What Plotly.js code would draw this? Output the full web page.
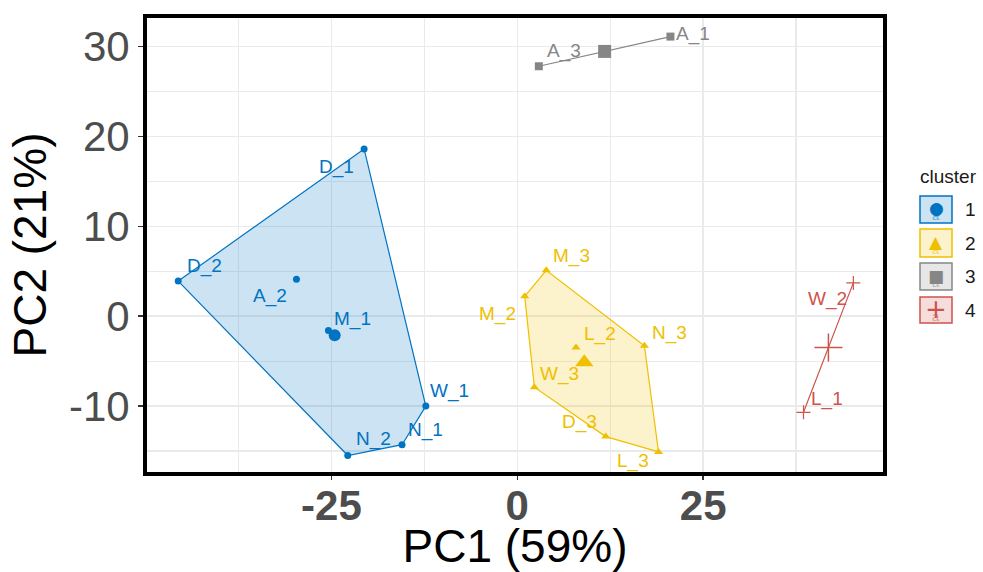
<!DOCTYPE html>
<html>
<head>
<meta charset="utf-8">
<script src="https://cdn.plot.ly/plotly-3.0.1.min.js"></script>
<style>html,body{margin:0;padding:0;background:#fff;}#chart{width:983px;height:572px;}</style>
</head>
<body>
<div id="chart"></div>
<script>
// ---- data ----
const sampleLabels = ['D_1','D_2','A_2','M_1','W_1','N_1','N_2','M_3','M_2','L_2','N_3','W_3','D_3','L_3','A_3','A_1','W_2','L_1'];
const pc1 = [-20.6,-45.6,-29.7,-25.4,-12.3,-15.5,-22.8, 3.9, 1.0, 7.9,17.1, 2.3,11.9,19.0, 2.9,20.6,45.2,38.5];
const pc2 = [ 18.6,  3.9,  4.1, -1.6,-10.0,-14.3,-15.5, 5.1, 2.2,-3.5,-3.3,-7.9,-13.4,-15.1,27.8,31.1, 3.7,-10.7];
const clusterOf = [1,1,1,1,1,1,1,2,2,2,2,2,2,2,3,3,4,4];
const clusterIds = [1,2,3,4];
const xTicks = [-25,0,25];
const xMinorTicks = [-37.5,-12.5,12.5,37.5];
const yTicks = [-10,0,10,20,30];
const yMinorTicks = [-15,-5,5,15,25];
const xTitle = 'PC1 (59%)';
const yTitle = 'PC2 (21%)';
const legendTitle = 'cluster';

// ---- style ----
const colors = {1:'#0073C2',2:'#EFC000',3:'#868686',4:'#CD534C'};
const fills  = {1:'rgba(0,115,194,0.2)',2:'rgba(239,192,0,0.2)',3:'rgba(134,134,134,0.2)',4:'rgba(205,83,76,0.2)'};
const symbols = {1:'circle',2:'triangle-up',3:'square',4:'cross-thin'};
const ptSize = {1:7,2:8,3:8,4:10};
const cenSize = {1:12,2:16,3:13,4:20};
// label pixel offsets (dx right, dy down), layout only
const labelDx = [-28, 26,-26, 24, 24, 23, 26, 25,-27, 24, 25, 25,-26,-26, 25, 23,-26, 23];
const labelDy = [ 19,-14, 18,-11,-14,-14,-15,-13, 19,-13,-12,-12,-14, 10,-14, -2, 17,-12];

const L = 145, R = 885, T = 16, B = 474;
const W = 983, H = 572;
const pxX = p => (p - L) / (R - L);
const pxY = p => (B - p) / (B - T);

function hull(pts){
  const p = pts.slice().sort((a,b)=>a[0]-b[0]||a[1]-b[1]);
  if (p.length < 3) return p;
  const cross=(o,a,b)=>(a[0]-o[0])*(b[1]-o[1])-(a[1]-o[1])*(b[0]-o[0]);
  const lo=[],up=[];
  for(const q of p){while(lo.length>=2&&cross(lo[lo.length-2],lo[lo.length-1],q)<=0)lo.pop();lo.push(q);}
  for(let i=p.length-1;i>=0;i--){const q=p[i];while(up.length>=2&&cross(up[up.length-2],up[up.length-1],q)<=0)up.pop();up.push(q);}
  up.pop();lo.pop();return lo.concat(up);
}

const traces = [];
clusterIds.forEach(c=>{
  const idx = clusterOf.map((v,i)=>v===c?i:-1).filter(i=>i>=0);
  const pts = idx.map(i=>[pc1[i],pc2[i]]);
  const h = hull(pts);
  traces.push({x:h.map(p=>p[0]).concat([h[0][0]]), y:h.map(p=>p[1]).concat([h[0][1]]),
    mode:'lines', fill:'toself', fillcolor:fills[c], line:{color:colors[c],width:1.2},
    hoverinfo:'skip', showlegend:false});
});
clusterIds.forEach(c=>{
  const idx = clusterOf.map((v,i)=>v===c?i:-1).filter(i=>i>=0);
  const isCross = symbols[c]==='cross-thin';
  traces.push({x:idx.map(i=>pc1[i]), y:idx.map(i=>pc2[i]), text:idx.map(i=>sampleLabels[i]),
    mode:'markers', marker:{symbol:symbols[c], size:ptSize[c], color:colors[c],
      line:{color:colors[c], width:isCross?1.2:0}}, name:String(c), showlegend:false});
  const cx = idx.reduce((s,i)=>s+pc1[i],0)/idx.length;
  const cy = idx.reduce((s,i)=>s+pc2[i],0)/idx.length;
  traces.push({x:[cx], y:[cy], mode:'markers', marker:{symbol:symbols[c], size:cenSize[c], color:colors[c],
      line:{color:colors[c], width:isCross?1.5:0}}, hoverinfo:'skip', showlegend:false});
});

const annotations = sampleLabels.map((t,i)=>({x:pc1[i], y:pc2[i], xref:'x', yref:'y', text:t, showarrow:false,
  xanchor:'center', yanchor:'middle', xshift:labelDx[i], yshift:-labelDy[i]+1,
  font:{family:'Liberation Sans, Arial, sans-serif', size:19, color:colors[clusterOf[i]]}}));

// legend (manual)
annotations.push({xref:'paper', yref:'paper', x:pxX(918), y:pxY(176), text:legendTitle, showarrow:false,
  xanchor:'left', yanchor:'middle', font:{family:'Liberation Sans, Arial, sans-serif', size:19, color:'#1a1a1a'}});
const keyTop = [196,229,263,297], keyBot=[223,257,290,323];
const glyph = {1:'●',2:'▲',3:'■',4:'+'};
const glyphSize = {1:17,2:17,3:17,4:26};
const shapes = [];
clusterIds.forEach((c,k)=>{
  shapes.push({type:'rect', xref:'paper', yref:'paper', x0:pxX(920), x1:pxX(952), y0:pxY(keyBot[k]), y1:pxY(keyTop[k]),
    line:{color:colors[c], width:1.5}, fillcolor:fills[c]});
  const cyPx = (keyTop[k]+keyBot[k])/2;
  annotations.push({xref:'paper', yref:'paper', x:pxX(936), y:pxY(cyPx+6), text:'a', showarrow:false,
    xanchor:'center', yanchor:'middle', font:{family:'Liberation Sans, Arial, sans-serif', size:13, color:colors[c]}, opacity:0.5});
  annotations.push({xref:'paper', yref:'paper', x:pxX(936), y:pxY(cyPx-1), text:glyph[c], showarrow:false,
    xanchor:'center', yanchor:'middle', font:{family:'DejaVu Sans, sans-serif', size:glyphSize[c], color:colors[c]}});
  annotations.push({xref:'paper', yref:'paper', x:pxX(963), y:pxY(cyPx), text:String(c), showarrow:false,
    xanchor:'left', yanchor:'middle', font:{family:'Liberation Sans, Arial, sans-serif', size:19, color:'#1a1a1a'}});
});
// panel border
shapes.push({type:'rect', xref:'paper', yref:'paper', x0:0, x1:1, y0:0, y1:1, line:{color:'#000', width:4}, layer:'above'});

const gridCol = '#EAEAEA';
const layout = {
  width:W, height:H, margin:{l:L, r:W-R, t:T, b:H-B, pad:0},
  paper_bgcolor:'#fff', plot_bgcolor:'#fff', showlegend:false,
  font:{family:'Liberation Sans, Arial, sans-serif'},
  xaxis:{range:[-50.07,49.46], tickmode:'array', tickvals:xTicks, ticktext:xTicks.map(String), zeroline:false,
    showgrid:true, gridcolor:gridCol, gridwidth:1.5,
    minor:{tickmode:'array', tickvals:xMinorTicks, showgrid:true, gridcolor:gridCol, gridwidth:1.2, ticks:''},
    ticks:'outside', ticklen:5, tickwidth:1.5, tickcolor:'#333', ticklabelstandoff:-10,
    tickfont:{size:42, color:'#4D4D4D', family:'Liberation Sans, Arial, sans-serif', weight:'bold'},
    title:{text:xTitle, font:{size:46, color:'#000'}, standoff:0}, automargin:false, fixedrange:true},
  yaxis:{range:[-17.56,33.39], tickmode:'array', tickvals:yTicks, ticktext:yTicks.map(String), zeroline:false,
    showgrid:true, gridcolor:gridCol, gridwidth:1.5,
    minor:{tickmode:'array', tickvals:yMinorTicks, showgrid:true, gridcolor:gridCol, gridwidth:1.2, ticks:''},
    ticks:'outside', ticklen:6, tickwidth:1.5, tickcolor:'#333', ticklabelstandoff:0,
    tickfont:{size:42, color:'#4D4D4D', family:'Liberation Sans, Arial, sans-serif'},
    title:{text:yTitle, font:{size:46, color:'#000'}, standoff:7}, automargin:false, fixedrange:true},
  annotations:annotations, shapes:shapes
};
Plotly.newPlot('chart', traces, layout, {displayModeBar:false, staticPlot:true});
</script>
</body>
</html>
